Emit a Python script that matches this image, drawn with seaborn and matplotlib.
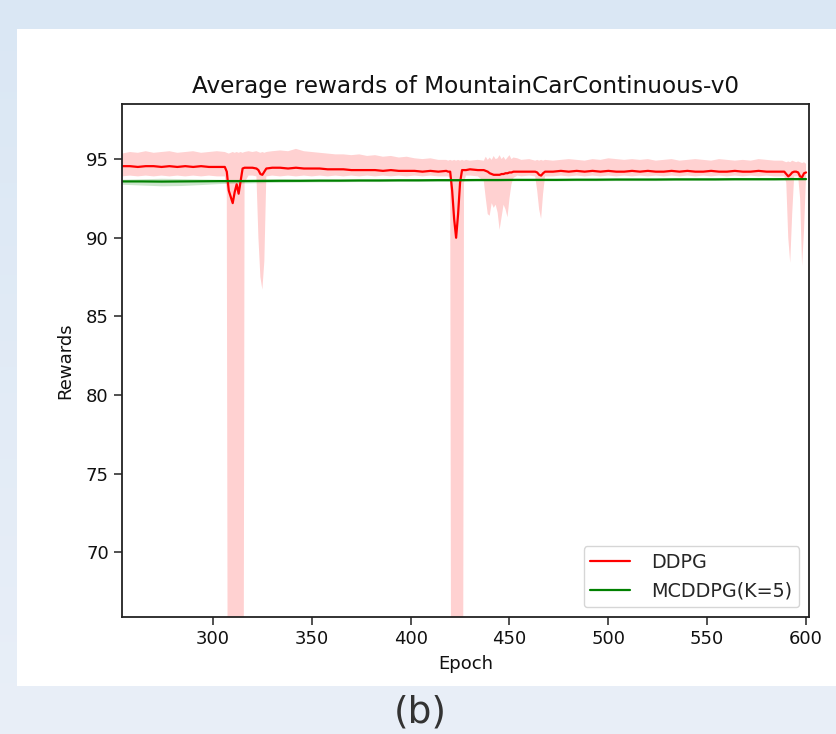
import numpy as np
import matplotlib
matplotlib.use("Agg")
import matplotlib.pyplot as plt
import seaborn as sns
import pandas as pd

# ---------------- data ----------------
epochs = [254, 258, 262, 266, 270, 274, 278, 282, 286, 290, 294, 298, 302, 306,
          307, 308, 309, 310, 311, 312, 313, 314, 315, 316,
          318, 320, 322, 323, 324, 325, 326, 327, 330,
          334, 338, 342, 346, 350, 354, 358, 362, 366, 370, 374, 378, 382, 386,
          390, 394, 398, 402, 406, 410, 414, 418,
          419, 420, 421, 422, 423, 424, 425, 426, 427, 428,
          430, 434, 437, 438, 439, 440, 441, 442, 443, 444, 445, 446, 447, 448,
          449, 450, 451, 452, 454, 456, 460, 463, 464, 465, 466, 467, 468,
          472, 476, 480, 484, 488, 492, 496, 500, 504, 508, 512, 516, 520, 524,
          528, 532, 536, 540, 544, 548, 552, 556, 560, 564, 568, 572, 576, 580,
          584, 588,
          589, 590, 591, 592, 593, 594, 595, 596, 597, 598, 599, 600]

ddpg_mean = [94.55, 94.55, 94.50, 94.55, 94.55, 94.50, 94.55, 94.50, 94.55, 94.50, 94.55, 94.50, 94.50, 94.50,
             94.20, 93.00, 92.60, 92.20, 92.90, 93.40, 92.80, 93.60, 94.40, 94.45,
             94.45, 94.45, 94.40, 94.30, 94.05, 94.00, 94.20, 94.40, 94.45,
             94.45, 94.40, 94.45, 94.40, 94.40, 94.40, 94.35, 94.35, 94.35, 94.30, 94.30, 94.30, 94.30, 94.25,
             94.30, 94.25, 94.25, 94.25, 94.20, 94.25, 94.20, 94.25,
             94.20, 94.20, 93.00, 91.20, 90.00, 91.50, 93.50, 94.30, 94.30, 94.30,
             94.35, 94.30, 94.30, 94.25, 94.20, 94.10, 94.05, 94.00, 94.00, 94.00, 94.00, 94.05, 94.05, 94.10,
             94.10, 94.15, 94.15, 94.20, 94.20, 94.20, 94.20, 94.20, 94.15, 94.00, 93.95, 94.10, 94.20,
             94.20, 94.25, 94.20, 94.25, 94.20, 94.25, 94.20, 94.25, 94.20, 94.20, 94.25, 94.20, 94.25, 94.20,
             94.20, 94.25, 94.20, 94.25, 94.20, 94.20, 94.25, 94.20, 94.20, 94.25, 94.20, 94.20, 94.25, 94.20,
             94.20, 94.20,
             94.20, 94.05, 93.90, 94.00, 94.15, 94.20, 94.20, 94.15, 93.90, 93.85, 94.10, 94.15]

ddpg_lo = [93.90, 93.95, 93.90, 93.95, 93.90, 93.95, 93.90, 93.95, 93.90, 93.95, 93.90, 93.95, 93.90, 93.90,
           93.00, 20.00, 20.00, 20.00, 20.00, 20.00, 20.00, 20.00, 20.00, 93.50,
           93.95, 93.95, 93.90, 90.00, 87.50, 86.70, 88.50, 93.90, 93.95,
           93.90, 93.95, 93.90, 93.95, 93.90, 93.95, 93.90, 93.95, 93.90, 93.95, 93.90, 93.95, 93.90, 93.95,
           93.90, 93.95, 93.90, 93.95, 93.90, 93.95, 93.90, 93.90,
           93.90, 93.80, 20.00, 20.00, 20.00, 20.00, 20.00, 20.00, 93.50, 93.95,
           93.95, 93.90, 93.60, 92.50, 91.50, 91.40, 92.20, 91.90, 92.10, 91.60, 90.50, 91.30, 92.10, 91.80,
           91.30, 92.50, 93.40, 93.80, 93.95, 93.90, 93.95, 93.90, 93.00, 91.80, 91.20, 92.80, 93.90,
           93.90, 93.95, 93.90, 93.95, 93.90, 93.95, 93.90, 93.95, 93.90, 93.95, 93.90, 93.95, 93.90, 93.95,
           93.90, 93.95, 93.90, 93.95, 93.90, 93.95, 93.90, 93.95, 93.90, 93.95, 93.90, 93.95, 93.90, 93.95,
           93.90, 93.90,
           93.90, 93.50, 90.00, 88.40, 91.50, 93.90, 93.90, 93.90, 92.50, 88.20, 90.50, 93.90]

ddpg_hi = [95.35, 95.45, 95.40, 95.50, 95.40, 95.45, 95.50, 95.40, 95.45, 95.50, 95.40, 95.45, 95.50, 95.45,
           95.40, 95.35, 95.40, 95.45, 95.40, 95.45, 95.40, 95.45, 95.40, 95.45,
           95.50, 95.45, 95.50, 95.45, 95.40, 95.45, 95.40, 95.45, 95.50,
           95.55, 95.50, 95.65, 95.50, 95.45, 95.40, 95.35, 95.30, 95.30, 95.25, 95.30, 95.20, 95.25, 95.15,
           95.20, 95.10, 95.15, 95.05, 95.00, 95.05, 94.95, 94.95,
           94.90, 94.95, 94.90, 94.95, 94.90, 94.95, 94.90, 94.95, 94.90, 94.95,
           94.90, 94.95, 94.90, 95.15, 94.95, 95.10, 94.95, 95.20, 95.00, 95.05, 95.25, 95.00, 95.15, 94.95,
           95.10, 95.25, 95.00, 95.10, 95.05, 94.95, 95.00, 94.90, 94.95, 94.90, 94.95, 94.90, 94.95,
           94.90, 94.95, 95.00, 94.95, 94.90, 95.00, 94.95, 95.05, 95.00, 94.95, 95.00, 94.95, 95.00, 94.90,
           94.95, 95.00, 94.90, 94.95, 95.00, 94.95, 94.90, 95.00, 94.95, 94.90, 94.95, 94.90, 95.00, 94.95,
           94.90, 94.90,
           94.85, 94.80, 94.85, 94.80, 94.90, 94.85, 94.80, 94.85, 94.80, 94.75, 94.80, 94.70]

mc_epochs = [254, 264, 274, 284, 294, 304, 314, 324, 334, 344, 354, 364, 374, 384,
             394, 404, 414, 424, 434, 444, 454, 464, 474, 484, 494, 504, 514, 524,
             534, 544, 554, 564, 574, 584, 594, 600]
mc_mean = [93.58, 93.58, 93.57, 93.58, 93.59, 93.60, 93.60, 93.61, 93.62, 93.62, 93.63, 93.63, 93.64, 93.64,
           93.65, 93.65, 93.66, 93.66, 93.67, 93.67, 93.68, 93.68, 93.68, 93.69, 93.69, 93.70, 93.70, 93.70,
           93.71, 93.71, 93.71, 93.72, 93.72, 93.72, 93.73, 93.73]
mc_lo = [93.40, 93.35, 93.30, 93.32, 93.38, 93.45, 93.48, 93.50, 93.52, 93.54, 93.55, 93.56, 93.57, 93.57,
         93.58, 93.58, 93.59, 93.59, 93.60, 93.60, 93.61, 93.61, 93.61, 93.62, 93.62, 93.63, 93.63, 93.63,
         93.64, 93.64, 93.64, 93.65, 93.65, 93.65, 93.66, 93.66]
mc_hi = [93.72, 93.75, 93.78, 93.76, 93.74, 93.72, 93.72, 93.73, 93.73, 93.72, 93.73, 93.72, 93.73, 93.73,
         93.73, 93.73, 93.74, 93.74, 93.75, 93.75, 93.76, 93.76, 93.76, 93.77, 93.77, 93.78, 93.78, 93.78,
         93.79, 93.79, 93.79, 93.80, 93.80, 93.80, 93.81, 93.81]

x_ticks = [300, 350, 400, 450, 500, 550, 600]
y_ticks = [70, 75, 80, 85, 90, 95]

# ---------------- style ----------------
sns.set_style("ticks")
plt.rcParams["font.family"] = ["DejaVu Sans"]
plt.rcParams["xtick.direction"] = "out"
plt.rcParams["ytick.direction"] = "out"

W, H = 837, 734
fig = plt.figure(figsize=(W / 100, H / 100), dpi=100)

# background: light blue gradient with a white panel
bg = fig.add_axes([0, 0, 1, 1], zorder=-10)
top_c = np.array([218, 231, 244]) / 255
bot_c = np.array([233, 239, 248]) / 255
t = np.linspace(0, 1, 200)[:, None, None]
grad = top_c[None, None, :] * (1 - t) + bot_c[None, None, :] * t
bg.imshow(grad, aspect="auto", extent=[0, 1, 0, 1], origin="upper")
bg.add_patch(plt.Rectangle((17 / W, 1 - 686 / H), 1 - 17 / W, (686 - 29) / H,
                           facecolor="white", edgecolor="none"))
bg.set_xlim(0, 1)
bg.set_ylim(0, 1)
bg.axis("off")

ax = fig.add_axes([122 / W, 1 - 617 / H, (809 - 122) / W, (617 - 104) / H])
ax.set_facecolor("white")

df_d = pd.DataFrame({"Epoch": epochs, "Rewards": ddpg_mean})
df_m = pd.DataFrame({"Epoch": mc_epochs, "Rewards": mc_mean})

ax.fill_between(epochs, ddpg_lo, ddpg_hi, color="red", alpha=0.18, linewidth=0)
ax.fill_between(mc_epochs, mc_lo, mc_hi, color="green", alpha=0.2, linewidth=0)
sns.lineplot(data=df_d, x="Epoch", y="Rewards", ax=ax, color="red", lw=1.6, label="DDPG")
sns.lineplot(data=df_m, x="Epoch", y="Rewards", ax=ax, color="green", lw=1.6, label="MCDDPG(K=5)")

ax.set_xlim(254, 601.5)
ax.set_ylim(65.9, 98.5)
ax.set_xticks(x_ticks)
ax.set_yticks(y_ticks)
ax.tick_params(labelsize=13, length=6, width=1.1, color="#222222", labelcolor="#111111")
for s in ax.spines.values():
    s.set_visible(True)
    s.set_color("#222222")
    s.set_linewidth(1.3)

ax.set_title("Average rewards of MountainCarContinuous-v0", fontsize=16.7, pad=8, color="#111111")
ax.set_xlabel("Epoch", fontsize=13, color="#111111", labelpad=5)
ax.set_ylabel("Rewards", fontsize=13, color="#111111", labelpad=8)

leg = ax.legend(loc="lower right", fontsize=13.8, frameon=True, fancybox=True,
                handlelength=2.1, borderaxespad=0.5, handletextpad=1.1, borderpad=0.35)
leg.get_frame().set_edgecolor("#cccccc")

fig.text(0.502, 1 - 712 / H, "(b)", ha="center", va="center", fontsize=27, color="#333333")

fig.savefig("out.png", dpi=100)
